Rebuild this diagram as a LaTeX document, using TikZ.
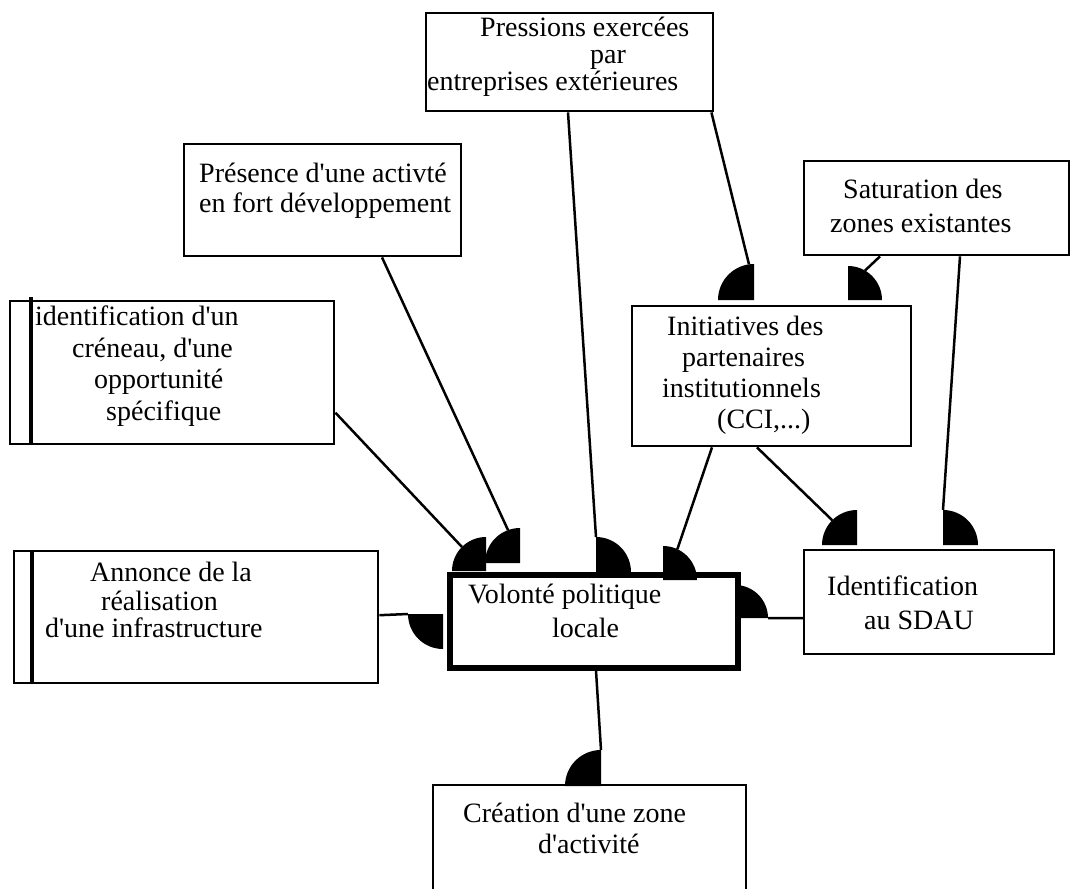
\documentclass[tikz,border=0pt]{standalone}
\usepackage{fontspec}
\setmainfont{Liberation Serif}
\newcommand\ap{\textquotesingle}
\newcommand\qdisc[4]{\fill (#1) -- ++(#2:#4) arc[start angle=#2,end angle=#3,radius=#4] -- cycle;}
\begin{document}
\begin{tikzpicture}[x=1pt,y=-1pt,
  box/.style={draw,line width=2.4pt,inner sep=0pt,anchor=north west},
  txt/.style={anchor=base west,inner sep=0pt,font=\fontsize{28}{30}\selectfont},
  conn/.style={line width=2.5pt}]
\useasboundingbox (0,0) rectangle (1072,889);
\clip (0,0) rectangle (1072,889);

% boxes
\node[box,minimum width=287pt,minimum height=98pt] (pres) at (425,12) {};
\node[box,minimum width=277pt,minimum height=112pt] (pdev) at (183,143) {};
\node[box,minimum width=265pt,minimum height=94pt] (sat) at (803,160) {};
\node[box,minimum width=279pt,minimum height=140pt] (init) at (631,305) {};
\node[box,minimum width=324pt,minimum height=143pt] (cren) at (9,300) {};
\node[box,minimum width=364pt,minimum height=132pt] (ann) at (13,550) {};
\node[box,line width=5.5pt,minimum width=288pt,minimum height=93pt] (vol) at (447,572) {};
\node[box,minimum width=250pt,minimum height=104pt] (sdau) at (803,549) {};
\node[box,minimum width=313pt,minimum height=140pt] (crea) at (432,784) {};

% inner thick lines of the double-edged boxes
\draw[line width=4.5pt] ([xshift=22pt,yshift=3pt]cren.north west) -- ([xshift=22pt,yshift=1pt]cren.south west);
\draw[line width=4.5pt] ([xshift=19pt]ann.north west) -- ([xshift=19pt]ann.south west);

% texts
\node[txt] (t1) at (480,36) {Pressions exercées};
\node[txt] (t2) at (590,63) {par};
\node[txt] (t3) at (427,90) {entreprises extérieures};
\node[txt] (t4) at (199,182) {Présence d\ap une activté};
\node[txt] (t5) at (199,212) {en fort développement};
\node[txt] (t6) at (843,198) {Saturation des};
\node[txt] (t7) at (830,232) {zones existantes};
\node[txt] (t8) at (667,335) {Initiatives des};
\node[txt] (t9) at (682,366) {partenaires};
\node[txt] (t10) at (662,397) {institutionnels};
\node[txt] (t11) at (717,428) {(CCI,...)};
\node[txt] (t12) at (35,325) {identification d\ap un};
\node[txt] (t13) at (72,357) {créneau, d\ap une};
\node[txt] (t14) at (94,388) {opportunité};
\node[txt] (t15) at (106,420) {spécifique};
\node[txt] (t16) at (90,581) {Annonce de la};
\node[txt] (t17) at (101,610) {réalisation};
\node[txt] (t18) at (45,637) {d\ap une infrastructure};
\node[txt] (t19) at (468,603) {Volonté politique};
\node[txt] (t20) at (552,637) {locale};
\node[txt] (t21) at (827,595) {Identification};
\node[txt] (t22) at (864,629) {au SDAU};
\node[txt] (t23) at (463,822) {Création d\ap une zone};
\node[txt] (t24) at (538,853) {d\ap activité};

% disc centres
\coordinate (d1) at (596,572);
\coordinate (d2) at (754,300);
\coordinate (d3) at (848,300);
\coordinate (d4) at (943,545);
\coordinate (d5) at (857,545);
\coordinate (d6) at (663,580);
\coordinate (d7) at (735,618);
\coordinate (d8) at (443,614);
\coordinate (d9) at (601,786);
\coordinate (d10) at (486,571);
\coordinate (d11) at (520,563);

% connectors
\draw[conn] ([xshift=143pt]pres.south west) -- ([shift={(-90:35)}]d1);
\draw[conn] ([xshift=-3pt]pres.south east) -- ([shift={(-98:36)}]d2);
\draw[conn] ([xshift=77pt]sat.south west) -- ([shift={(-60:34)}]d3);
\draw[conn] ([xshift=157pt]sat.south west) -- ([shift={(-90:35)}]d4);
\draw[conn] ([xshift=126pt]init.south west) -- ([shift={(-135:35)}]d5);
\draw[conn] ([xshift=81pt]init.south west) -- ([shift={(-65:34)}]d6);
\draw[conn] ([yshift=-16pt]sdau.west) -- ([shift={(0:33)}]d7);
\draw[conn] ([yshift=2pt]ann.east) -- ([shift={(180:35)}]d8);
\draw[conn] ([xshift=149pt]vol.south west) -- ([shift={(-90:36)}]d9);
\draw[conn] ([yshift=-40pt]cren.east) -- ([shift={(-135:34)}]d10);
\draw[conn] ([xshift=199pt]pdev.south west) -- ([shift={(-110:35)}]d11);

% quarter discs
\qdisc{d1}{0}{-90}{35}
\qdisc{d2}{-90}{-180}{36}
\qdisc{d3}{0}{-90}{34}
\qdisc{d4}{0}{-90}{35}
\qdisc{d5}{-90}{-180}{35}
\qdisc{d6}{0}{-90}{34}
\qdisc{d7}{0}{-90}{33}
\qdisc{d8}{180}{90}{35}
\qdisc{d9}{-90}{-180}{36}
\qdisc{d10}{-90}{-180}{34}
\qdisc{d11}{-90}{-180}{35}
\end{tikzpicture}
\end{document}
